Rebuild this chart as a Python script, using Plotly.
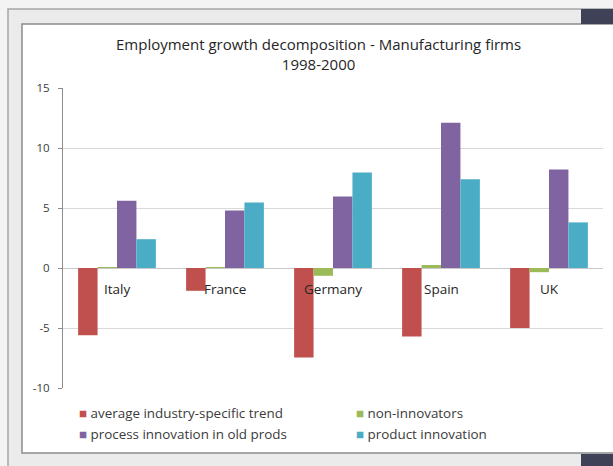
import plotly.graph_objects as go

# Employment growth decomposition, manufacturing firms, 1998-2000
countries = ["Italy", "France", "Germany", "Spain", "UK"]
series_names = [
    "average industry-specific trend",
    "non-innovators",
    "process innovation in old prods",
    "product innovation",
]
industry_trend = [-5.6, -1.9, -7.45, -5.7, -5.0]
non_innovators = [0.05, 0.05, -0.65, 0.25, -0.35]
process_innovation = [5.6, 4.8, 5.95, 12.1, 8.2]
product_innovation = [2.4, 5.45, 7.95, 7.4, 3.8]
y_ticks = [-10, -5, 0, 5, 10, 15]
y_tick_labels = ["-10", "-5", "0", "5", "10", "15"]

series_values = [industry_trend, non_innovators, process_innovation, product_innovation]
colors = ["#c0504d", "#9bbb59", "#8064a2", "#4bacc6"]

W, H = 613, 466
PL, PR, PT, PB = 63, 603, 88, 388  # plot area in pixels


def px_x(x):
    return (x - PL) / (PR - PL)


def px_y(y):
    return (PB - y) / (PB - PT)


fig = go.Figure()
for name, vals, col in zip(series_names, series_values, colors):
    fig.add_trace(go.Bar(x=countries, y=vals, name=name, marker_color=col,
                         marker_line_width=0, showlegend=False))

font_family = "'Open Sans', sans-serif"
text_col = "#3a3a3a"

shapes = [
    # slide frame
    dict(type="rect", xref="paper", yref="paper", x0=px_x(8), x1=px_x(640),
         y0=px_y(9), y1=px_y(490), fillcolor="#ebebeb",
         line=dict(color="#a6a6a6", width=1.5), layer="below"),
    # chart area
    dict(type="rect", xref="paper", yref="paper", x0=px_x(22), x1=px_x(640),
         y0=px_y(24), y1=px_y(453), fillcolor="#ffffff",
         line=dict(color="#8c8c8c", width=1.5), layer="below"),
    # dark corner blocks
    dict(type="rect", xref="paper", yref="paper", x0=px_x(581), x1=px_x(620),
         y0=px_y(9), y1=px_y(24), fillcolor="#3f4257", line_width=0, layer="below"),
    dict(type="rect", xref="paper", yref="paper", x0=px_x(581), x1=px_x(620),
         y0=px_y(454), y1=px_y(470), fillcolor="#3f4257", line_width=0, layer="below"),
]

annotations = [
    dict(text="Employment growth decomposition - Manufacturing firms<br>1998-2000",
         xref="paper", yref="paper", x=px_x(318), y=px_y(54), xanchor="center",
         yanchor="middle", showarrow=False,
         font=dict(family=font_family, size=15, color="#262626")),
]

# category labels sit just below the zero line
for c in countries:
    annotations.append(dict(text=c, x=c, y=0, xref="x", yref="y", yanchor="middle",
                            yshift=-21, showarrow=False,
                            font=dict(family=font_family, size=13.5, color="#262626")))

# legend entries in two columns
legend_pos = [(77, 413), (354, 413), (77, 434), (354, 434)]
for name, col, (lx, ly) in zip(series_names, colors, legend_pos):
    annotations.append(dict(
        text=f"<span style='color:{col}'>■</span> {name}",
        xref="paper", yref="paper", x=px_x(lx), y=px_y(ly), xanchor="left",
        yanchor="middle", showarrow=False,
        font=dict(family=font_family, size=13.4, color=text_col)))

fig.update_layout(
    width=W, height=H,
    margin=dict(l=PL, r=W - PR, t=PT, b=H - PB, pad=0),
    paper_bgcolor="#f3f3f3",
    plot_bgcolor="rgba(0,0,0,0)",
    barmode="group", bargap=0.28, bargroupgap=0,
    shapes=shapes, annotations=annotations,
    xaxis=dict(showticklabels=False, showgrid=False, showline=False, ticks="",
               zeroline=False),
    yaxis=dict(range=[-10, 15], tickvals=y_ticks, ticktext=y_tick_labels,
               showgrid=True, gridcolor="#d9d9d9",
               gridwidth=1, zeroline=True, zerolinecolor="#c8c8c8", zerolinewidth=1,
               showline=True, linecolor="#8c8c8c", linewidth=1, ticks="outside",
               ticklen=4, tickcolor="#8c8c8c", ticklabelstandoff=6,
               tickfont=dict(family=font_family, size=11.5, color=text_col)),
    font=dict(family=font_family),
)

fig.write_html("out.html")
